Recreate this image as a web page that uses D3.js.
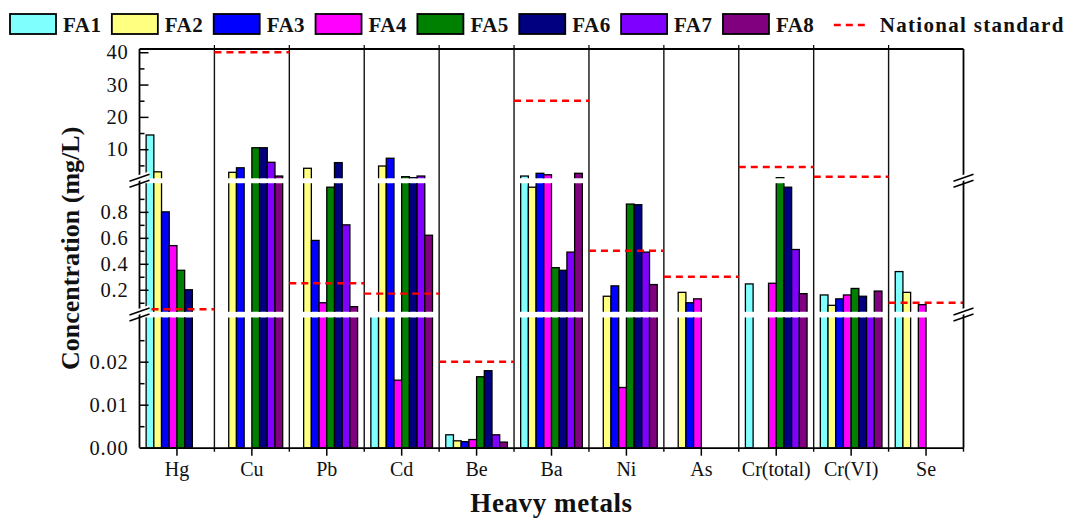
<!DOCTYPE html>
<html>
<head>
<meta charset="utf-8">
<script src="https://cdn.jsdelivr.net/npm/d3@7"></script>
<style>
  body { margin: 0; background: #fff; }
  svg { display: block; }
  text { font-family: "Liberation Serif", "Times New Roman", serif; fill: #111; }
</style>
</head>
<body>
<div id="chart"></div>
<script>
// heavy metals, FA1..FA8 leachate concentrations (mg/L), null = not detected
const metals = ["Hg", "Cu", "Pb", "Cd", "Be", "Ba", "Ni", "As", "Cr(total)", "Cr(VI)", "Se"];
const seriesNames = ["FA1", "FA2", "FA3", "FA4", "FA5", "FA6", "FA7", "FA8"];
const seriesColors = ["#80ffff", "#ffff80", "#0000ff", "#ff00ff", "#008000", "#000080", "#8000ff", "#800080"];

const FA1 = [14.4, null, null, 0.031, 0.003, 1.7, null, null, 0.245, 0.16, 0.34];
const FA2 = [3.0, 2.85, 4.1, 4.8, 0.0016, 0.99, 0.15, 0.18, null, 0.08, 0.18];
const FA3 = [0.80, 4.25, 0.58, 7.2, 0.0014, 2.55, 0.23, 0.10, null, 0.13, null];
const FA4 = [0.54, null, 0.10, 0.0157, 0.0019, 2.1, 0.014, 0.13, 0.25, 0.16, 0.085];
const FA5 = [0.35, 10.45, 0.99, 1.5, 0.0165, 0.37, 0.86, null, 1.2, 0.21, null];
const FA6 = [0.20, 10.45, 5.85, 1.2, 0.0179, 0.35, 0.855, null, 0.99, 0.15, null];
const FA7 = [null, 5.95, 0.70, 1.7, 0.003, 0.49, 0.49, null, 0.51, 0.031, null];
const FA8 = [null, 1.7, 0.07, 0.62, 0.0013, 2.55, 0.24, null, 0.17, 0.19, null];
const seriesValues = [FA1, FA2, FA3, FA4, FA5, FA6, FA7, FA8];

const nationalStandard = [0.05, 40, 0.25, 0.17, 0.02, 25, 0.5, 0.3, 4.5, 1.5, 0.1];

// broken y axis: three stacked pieces
const topTicks = [10, 20, 30, 40], topMinor = [5, 15, 25, 35];
const midTicks = [0.2, 0.4, 0.6, 0.8], midMinor = [0.1, 0.3, 0.5, 0.7, 0.9];
const botTicks = [0, 0.01, 0.02], botMinor = [0.005, 0.015, 0.025];

const width = 1072, height = 520;
const L = 139.5, R = 963.5, T = 49, B = 447.7;

const svg = d3.select("#chart").append("svg")
  .attr("width", width)
  .attr("height", height);

const x = d3.scaleBand().domain(metals).range([L, R]).padding(0);
const xs = d3.scaleBand().domain(seriesNames).range([0, x.bandwidth()])
  .paddingInner(0).paddingOuter(0.86);

const segments = [
  { name: "top", y: d3.scaleLinear().domain([1, 41]).range([178.3, T]),
    ticks: topTicks, minor: topMinor, fmt: d3.format("d") },
  { name: "mid", y: d3.scaleLinear().domain([0.031, 1.02]).range([311.7, 183.3]),
    ticks: midTicks, minor: midMinor, fmt: d3.format(".1f") },
  { name: "bot", y: d3.scaleLinear().domain([0, 0.0303]).range([B, 317.4]),
    ticks: botTicks, minor: botMinor, fmt: d3.format(".2f") }
];

function yAny(v) {
  for (const s of segments) {
    const [lo, hi] = s.y.domain();
    if (v > lo && v <= hi) return s.y(v);
  }
  return segments[2].y(v);
}

const bars = [];
seriesNames.forEach((name, i) => {
  metals.forEach((m, j) => {
    const v = seriesValues[i][j];
    if (v != null) bars.push({ series: name, metal: m, value: v, color: seriesColors[i] });
  });
});

// bars, drawn piece by piece and clipped to each y range
segments.forEach((s, k) => {
  const [lo, hi] = s.y.domain();
  const [y0, y1] = s.y.range(); // bottom, top
  svg.append("clipPath").attr("id", "clip-" + s.name)
    .append("rect")
    .attr("x", L).attr("y", y1)
    .attr("width", R - L).attr("height", y0 - y1);

  const g = svg.append("g").attr("clip-path", `url(#clip-${s.name})`);
  const inSeg = bars.filter(d => d.value > lo);
  const bottom = k === segments.length - 1 ? y0 : y0 + 4;
  g.selectAll("rect")
    .data(inSeg)
    .join("rect")
      .attr("x", d => x(d.metal) + xs(d.series))
      .attr("width", xs.bandwidth())
      .attr("y", d => d.value >= hi ? y1 - 4 : s.y(d.value))
      .attr("height", d => bottom - (d.value >= hi ? y1 - 4 : s.y(d.value)))
      .attr("fill", d => d.color)
      .attr("stroke", "#000")
      .attr("stroke-width", 1.3);
});

// group separators
svg.append("g")
  .selectAll("line")
  .data(metals.slice(1))
  .join("line")
    .attr("x1", d => x(d)).attr("x2", d => x(d))
    .attr("y1", T).attr("y2", B)
    .attr("stroke", "#111")
    .attr("stroke-width", 1.4);

// national standard lines
svg.append("g")
  .selectAll("line")
  .data(nationalStandard)
  .join("line")
    .attr("x1", (d, i) => x(metals[i]))
    .attr("x2", (d, i) => x(metals[i]) + x.bandwidth())
    .attr("y1", d => yAny(d))
    .attr("y2", d => yAny(d))
    .attr("stroke", "#ff0000")
    .attr("stroke-width", 2.4)
    .attr("stroke-dasharray", "7,5");

// frame
svg.append("line").attr("x1", L).attr("x2", R).attr("y1", T).attr("y2", T)
  .attr("stroke", "#000").attr("stroke-width", 1.8);
svg.append("line").attr("x1", L).attr("x2", L).attr("y1", T).attr("y2", B)
  .attr("stroke", "#000").attr("stroke-width", 1.8);
svg.append("line").attr("x1", R).attr("x2", R).attr("y1", T).attr("y2", B)
  .attr("stroke", "#000").attr("stroke-width", 1.8);

// small ticks on top edge at group boundaries
svg.append("g")
  .selectAll("line")
  .data(metals.slice(1))
  .join("line")
    .attr("x1", d => x(d)).attr("x2", d => x(d))
    .attr("y1", T).attr("y2", T - 4)
    .attr("stroke", "#000").attr("stroke-width", 1.2);

// y axes
segments.forEach(s => {
  const ax = svg.append("g")
    .attr("transform", `translate(${L},0)`)
    .call(d3.axisLeft(s.y).tickValues(s.ticks).tickFormat(s.fmt)
      .tickSizeInner(-9).tickSizeOuter(0).tickPadding(11));
  ax.select(".domain").remove();
  ax.selectAll("line").attr("stroke", "#000").attr("stroke-width", 1.5);
  ax.selectAll("text")
    .style("font-family", "'Liberation Serif', serif")
    .style("font-size", "20.5px")
    .style("letter-spacing", "0.8px")
    .attr("fill", "#111");

  const mn = svg.append("g")
    .attr("transform", `translate(${L},0)`)
    .call(d3.axisLeft(s.y).tickValues(s.minor).tickFormat("")
      .tickSizeInner(-5).tickSizeOuter(0));
  mn.select(".domain").remove();
  mn.selectAll("line").attr("stroke", "#000").attr("stroke-width", 1.5);
});

// x axis
const xa = svg.append("g")
  .attr("transform", `translate(0,${B})`)
  .call(d3.axisBottom(x).tickSizeInner(8).tickSizeOuter(0).tickPadding(6));
xa.select(".domain").attr("stroke", "#000").attr("stroke-width", 1.8);
xa.selectAll("line").attr("stroke", "#000").attr("stroke-width", 1.5);
xa.selectAll("text")
  .style("font-family", "'Liberation Serif', serif")
  .style("font-size", "20px")
  .attr("fill", "#111");

svg.append("g")
  .selectAll("line")
  .data(metals.slice(1).concat(["end"]))
  .join("line")
    .attr("x1", d => d === "end" ? R : x(d)).attr("x2", d => d === "end" ? R : x(d))
    .attr("y1", B).attr("y2", B + 4)
    .attr("stroke", "#000").attr("stroke-width", 1.4);

// break marks on left and right axes
const breaks = [180.8, 314.5];
[L, R].forEach(ax => {
  breaks.forEach(by => {
    const g = svg.append("g").attr("transform", `translate(${ax},${by})`);
    g.append("polygon")
      .attr("points", "-10,0.5 10,-6.5 10,-0.5 -10,6.5")
      .attr("transform", "translate(0,-3)")
      .attr("fill", "#fff");
    g.append("line").attr("x1", -10).attr("y1", 0.5).attr("x2", 10).attr("y2", -6.5)
      .attr("stroke", "#000").attr("stroke-width", 1.5);
    g.append("line").attr("x1", -10).attr("y1", 6.5).attr("x2", 10).attr("y2", -0.5)
      .attr("stroke", "#000").attr("stroke-width", 1.5);
  });
});

// axis titles
svg.append("text")
  .attr("transform", `translate(79,${(T + B) / 2}) rotate(-90)`)
  .attr("text-anchor", "middle")
  .style("font-size", "26px")
  .style("font-weight", "bold")
  .text("Concentration (mg/L)");

svg.append("text")
  .attr("x", (L + R) / 2)
  .attr("y", 512)
  .attr("text-anchor", "middle")
  .style("font-size", "27px")
  .style("font-weight", "bold")
  .style("letter-spacing", "0.6px")
  .text("Heavy metals");

// legend
const legend = svg.append("g").attr("class", "legend");
const legendStep = 101.85;
seriesNames.forEach((name, i) => {
  const lx = 10 + i * legendStep;
  legend.append("rect")
    .attr("x", lx).attr("y", 14)
    .attr("width", 46).attr("height", 20)
    .attr("fill", seriesColors[i])
    .attr("stroke", "#000").attr("stroke-width", 1.8);
  legend.append("text")
    .attr("x", lx + 53).attr("y", 32)
    .style("font-size", "21px")
    .style("font-weight", "bold")
    .style("letter-spacing", "0.5px")
    .text(name);
});
const nx = 10 + seriesNames.length * legendStep;
legend.append("line")
  .attr("x1", nx + 9).attr("x2", nx + 45)
  .attr("y1", 25).attr("y2", 25)
  .attr("stroke", "#ff0000").attr("stroke-width", 2.4)
  .attr("stroke-dasharray", "7,5");
legend.append("text")
  .attr("x", nx + 55).attr("y", 32)
  .style("font-size", "21px")
  .style("font-weight", "bold")
  .style("letter-spacing", "1.3px")
  .text("National standard");
</script>
</body>
</html>
